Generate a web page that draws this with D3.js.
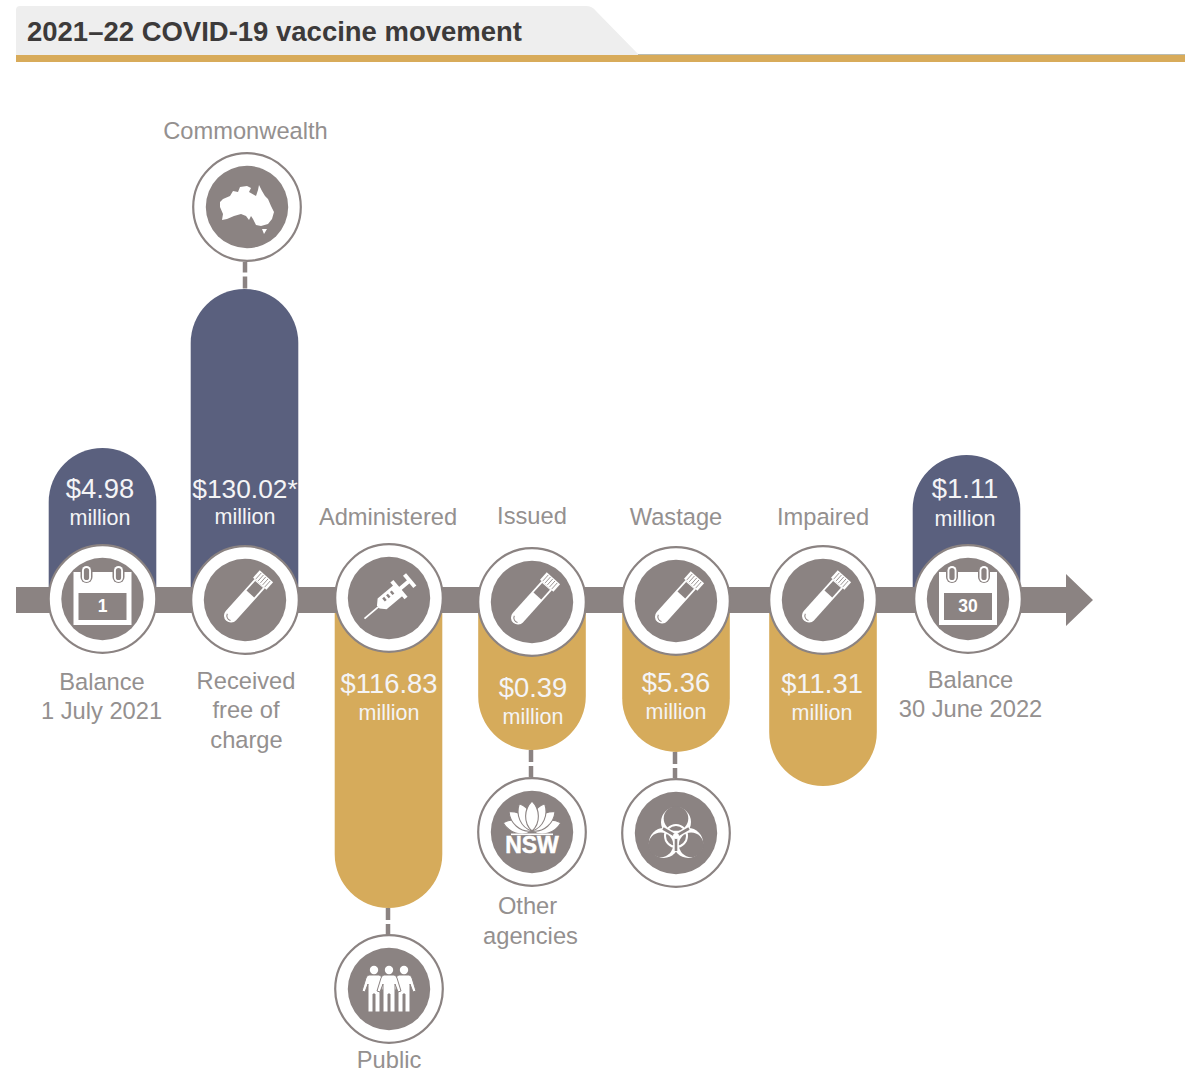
<!DOCTYPE html>
<html><head><meta charset="utf-8">
<script src="https://cdn.jsdelivr.net/npm/d3@7/dist/d3.min.js"></script>
<style>html,body{margin:0;padding:0;background:#fff}svg{display:block}text{font-family:"Liberation Sans",Arial,sans-serif}</style>
</head><body><div id="c"></div>
<script>
const title = "2021–22 COVID-19 vaccine movement";
const stages = ["Balance 1 July 2021","Received","Administered","Issued","Wastage","Impaired","Balance 30 June 2022"];
const values = [4.98,130.02,116.83,0.39,5.36,11.31,1.11];
const valueLabels = ["$4.98","$130.02*","$116.83","$0.39","$5.36","$11.31","$1.11"];
const direction = ["in","in","out","out","out","out","balance"];
const icons = ["cal1","tube","syringe","tube","tube","tube","cal30"];
const unitLabel = "million";

const W=1185,H=1073,axisY=600,GRAY="#8b8382",NAVY="#5a607e",GOLD="#d6ab5b",TXT="#94908f";
const svg=d3.select("#c").append("svg").attr("width",W).attr("height",H);

const xScale=d3.scaleOrdinal().domain(stages).range([102.5,244.5,388.5,532,676,823,966.5]);
const iconX=d3.scaleOrdinal().domain(stages).range([102.5,245,389,532,676,823,968]);
const iconY=d3.scaleOrdinal().domain(stages).range([599,600,598,602,601,600,599]);
// pill reach is schematic in the source, not proportional to dollars
const reach=d3.scaleLinear().domain([0.39,1.11,4.98,5.36,11.31,116.83,130.02]).range([150,145,152,152,186,308,311]);

const valuePos=[[100,497.5,525],[245,497.5,524],[389,692.5,720],[533,696.5,724],[676,691.5,719],[822,692.5,720],[965,497.5,526]];
const textLabels=[
 ["Commonwealth",245.5,139],["Administered",388,525],["Issued",532,524],["Wastage",676,525],["Impaired",823,525],
 ["Balance",102,690],["1 July 2021",101.5,719],["Received",246,689],["free of",246,718],["charge",246.5,748],
 ["Balance",970.5,688],["30 June 2022",970.5,717],["Other",527.5,914],["agencies",530.5,944],["Public",389,1067.5]];
const satellites=[
 {icon:"aus",x:247,y:207,from:[245,262],to:289},
 {icon:"nsw",x:532,y:832,from:[531,750],to:777},
 {icon:"bio",x:676,y:833,from:[675,752],to:778},
 {icon:"people",x:389,y:989,from:[388,908],to:935}];

// header
svg.append("path").attr("d","M16,55 V10 Q16,6 20,6 H586 Q592,6 596,11 L639,55 Z").attr("fill","#eeeeee");
svg.append("rect").attr("x",638).attr("y",54).attr("width",W-638).attr("height",2).attr("fill","#b9bdb4");
svg.append("rect").attr("x",16).attr("y",55).attr("width",W-16).attr("height",7).attr("fill","#d8ab5a");
svg.append("text").attr("x",27).attr("y",41).attr("font-size",27).attr("font-weight",700).attr("fill","#3c3a3a")
  .attr("textLength",495).attr("lengthAdjust","spacingAndGlyphs").text(title);

// pills
const r=53.8;
svg.selectAll("path.pill").data(stages).join("path").attr("class","pill")
 .attr("fill",(d,i)=>direction[i]==="out"?GOLD:NAVY)
 .attr("d",(d,i)=>{const x=xScale(d),len=reach(values[i]);
   if(direction[i]==="out"){const t=axisY+len;return `M${x-r},${axisY} V${t-r} A${r},${r} 0 0 0 ${x+r},${t-r} V${axisY} Z`;}
   const t=axisY-len;return `M${x-r},${axisY} V${t+r} A${r},${r} 0 0 1 ${x+r},${t+r} V${axisY} Z`;});

// arrow
svg.append("path").attr("fill",GRAY).attr("d",`M16,587 H1066 V574 L1093,600 L1066,626 V613 H16 Z`);

// connectors
satellites.forEach(s=>{
 svg.append("line").attr("x1",s.from[0]).attr("x2",s.from[0]).attr("y1",s.from[1]).attr("y2",s.to)
   .attr("stroke",GRAY).attr("stroke-width",4.5).attr("stroke-dasharray",s.from[1]===262?"10.5 4 12":"12 4 11");
});

function ring(x,y){
 const g=svg.append("g").attr("transform",`translate(${x},${y})`);
 g.append("circle").attr("r",53.8).attr("fill","#fff").attr("stroke",GRAY).attr("stroke-width",2.2);
 g.append("circle").attr("r",41.2).attr("fill",GRAY);
 return g;
}
const drawIcon={
 cal(g,label){
  g.append("rect").attr("x",-29).attr("y",-27).attr("width",58).attr("height",53).attr("fill","#fff");
  g.append("rect").attr("x",-24).attr("y",-6).attr("width",48).attr("height",27).attr("fill",GRAY);
  [-16,16].forEach(x=>{
   g.append("rect").attr("x",x-6).attr("y",-34).attr("width",12).attr("height",18).attr("rx",6).attr("fill",GRAY);
   g.append("rect").attr("x",x-4.5).attr("y",-33).attr("width",9).attr("height",16).attr("rx",4.5).attr("fill","#fff");
   g.append("rect").attr("x",x-2.6).attr("y",-31).attr("width",5.2).attr("height",12).attr("rx",2.6).attr("fill",GRAY);
  });
  g.append("text").attr("y",13).attr("text-anchor","middle").attr("font-size",17.5).attr("font-weight",700).attr("fill","#fff").text(label);
 },
 cal1(g){drawIcon.cal(g,"1");},
 cal30(g){drawIcon.cal(g,"30");},
 tube(g){
  const t=g.append("g").attr("transform","rotate(42)");
  t.append("path").attr("d","M-7,-22 V21 A7,7 0 0 0 7,21 V-22 Z").attr("fill","#fff");
  t.append("rect").attr("x",-5.2).attr("y",-21).attr("width",10.4).attr("height",13).attr("fill",GRAY);
  t.append("rect").attr("x",-9).attr("y",-32).attr("width",18).attr("height",10).attr("fill","#fff");
  d3.range(-6,8,3).forEach(x=>t.append("line").attr("x1",x).attr("x2",x).attr("y1",-31).attr("y2",-23).attr("stroke",GRAY).attr("stroke-width",.8));
  t.append("path").attr("d","M-4,22 A5,5 0 0 0 3,25").attr("fill","none").attr("stroke",GRAY).attr("stroke-width",1);
 },
 syringe(g){
  const t=g.append("g").attr("transform","rotate(50)");
  t.append("rect").attr("x",-.9).attr("y",10).attr("width",1.8).attr("height",22).attr("fill","#fff");
  t.append("path").attr("d","M-7,-12 H7 V9 L2,14 H-2 L-7,9 Z").attr("fill","#fff");
  t.append("rect").attr("x",-11).attr("y",-15).attr("width",22).attr("height",4).attr("fill","#fff");
  t.append("rect").attr("x",-2).attr("y",-26).attr("width",4).attr("height",12).attr("fill","#fff");
  t.append("rect").attr("x",-8).attr("y",-29).attr("width",16).attr("height",4).attr("fill","#fff");
  [-7,-2,3].forEach(y=>t.append("rect").attr("x",-4).attr("y",y).attr("width",4).attr("height",2.5).attr("fill",GRAY));
 },
 aus(g){
  g.append("path").attr("fill","#fff").attr("d","M-27,-5 L-24,-8 L-17,-11 L-14,-16 L-9,-15 L-7,-20 L0,-21 L4,-19 L2,-15 L9,-11 L11,-17 L12,-22 L15,-16 L18,-11 L21,-8 L24,-1 L27,5 L25,12 L21,17 L14,19 L9,18 L6,12 L4,9 L2,13 L-1,9 L-6,7 L-13,9 L-20,12 L-25,13 L-24,7 L-27,0 Z M15,22 L20,22 L17,27 Z");
 },
 nsw(g){
  const f=g.append("g").attr("transform","translate(0,-1)");
  [-74,74,-50,50,-25,25,0].forEach(a=>{
   f.append("path").attr("transform",`rotate(${a})`)
    .attr("d","M0,0 C-9,-8 -8,-22 0,-30 C8,-22 9,-8 0,0 Z").attr("fill","#fff").attr("stroke",GRAY).attr("stroke-width",1.1);
  });
  g.append("rect").attr("x",-21).attr("y",1.5).attr("width",42).attr("height",1.6).attr("fill","#fff");
  g.append("text").attr("y",21).attr("text-anchor","middle").attr("font-size",23).attr("font-weight",700).attr("fill","#fff").attr("stroke","#fff").attr("stroke-width",.5).text("NSW");
 },
 bio(g){
  const b=g.append("g").attr("transform","translate(0,3)");
  [-90,30,150].forEach(a=>{
   const c=Math.cos(a*Math.PI/180),s=Math.sin(a*Math.PI/180);
   b.append("circle").attr("cx",14*c).attr("cy",14*s).attr("r",15).attr("fill","#fff");
  });
  [-90,30,150].forEach(a=>{
   const c=Math.cos(a*Math.PI/180),s=Math.sin(a*Math.PI/180);
   b.append("circle").attr("cx",17.5*c).attr("cy",17.5*s).attr("r",12.3).attr("fill",GRAY);
  });
  b.append("circle").attr("r",11).attr("fill","none").attr("stroke","#fff").attr("stroke-width",2);
  [90,-30,210].forEach(a=>{
   const c=Math.cos(a*Math.PI/180),s=Math.sin(a*Math.PI/180);
   b.append("line").attr("x1",0).attr("y1",0).attr("x2",15*c).attr("y2",15*s).attr("stroke",GRAY).attr("stroke-width",2.6);
  });
  b.append("circle").attr("r",3).attr("fill","#fff");
 },
 people(g){
  const d="M-5,-14 H5 Q7,-14 8,-11 L12,2 L9,3 L6,-5 V23 H1 V5 H-1 V23 H-6 V-5 L-9,3 L-12,2 L-8,-11 Q-7,-14 -5,-14 Z";
  [-15,15,0].forEach(x=>{
   g.append("path").attr("transform",`translate(${x},0)`).attr("d",d).attr("fill","#fff").attr("stroke",GRAY).attr("stroke-width",1);
   g.append("circle").attr("cx",x).attr("cy",-19).attr("r",4.2).attr("fill","#fff");
  });
 }
};
stages.forEach((s,i)=>drawIcon[icons[i]](ring(iconX(s),iconY(s))));
satellites.forEach(s=>drawIcon[s.icon](ring(s.x,s.y)));

// value labels
valueLabels.forEach((v,i)=>{
 const p=valuePos[i];
 svg.append("text").attr("x",p[0]).attr("y",p[1]).attr("text-anchor","middle").attr("font-size",i===1?26.3:27.4).attr("fill","#f4f4f6").text(v);
 svg.append("text").attr("x",p[0]).attr("y",p[2]).attr("text-anchor","middle").attr("font-size",21.5).attr("fill","#f4f4f6").text(unitLabel);
});
// category labels
svg.selectAll("text.lab").data(textLabels).join("text").attr("class","lab")
 .attr("x",d=>d[1]).attr("y",d=>d[2]).attr("text-anchor","middle").attr("font-size",23.7).attr("fill",TXT).text(d=>d[0]);
</script></body></html>
